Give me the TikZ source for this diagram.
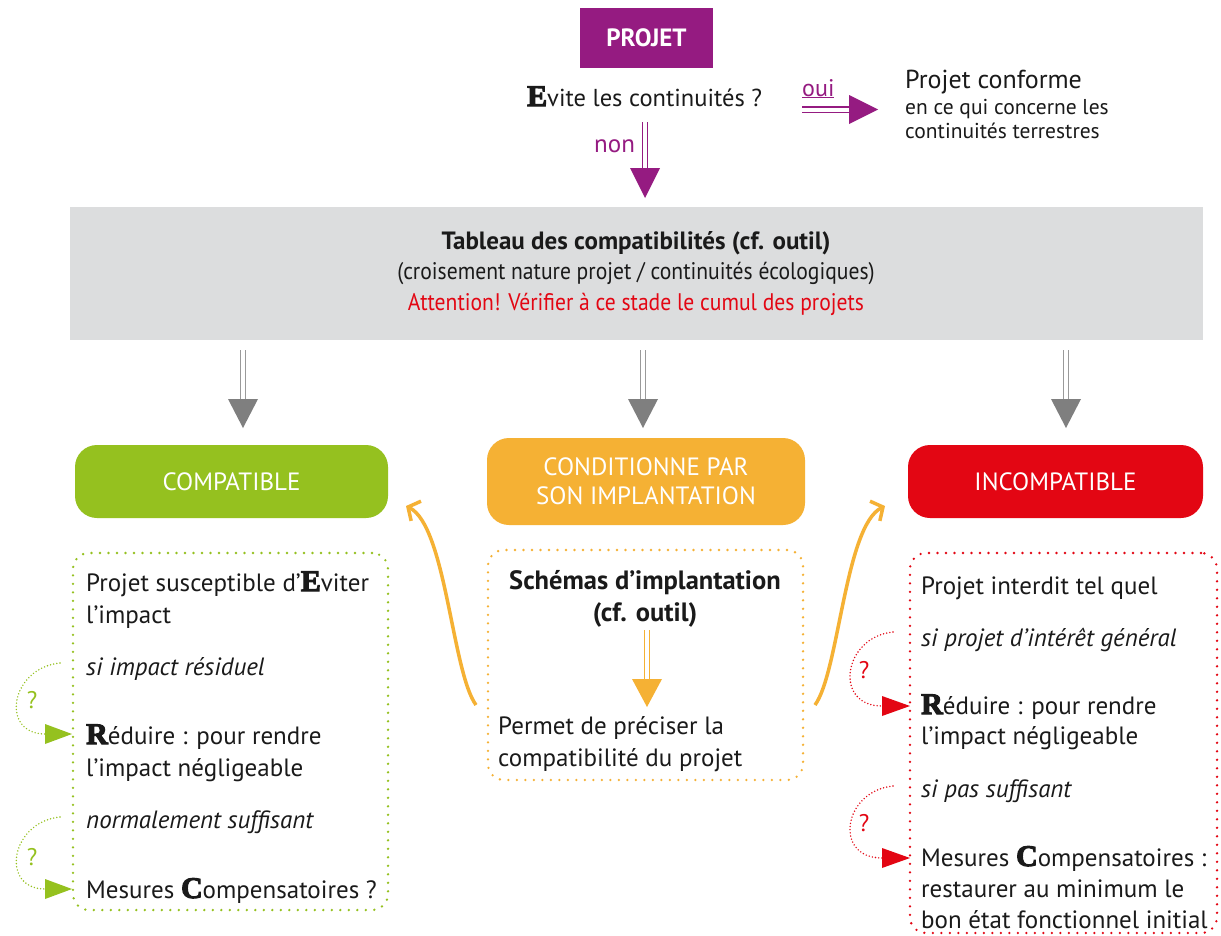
\documentclass[tikz,border=0pt]{standalone}
\usepackage{fontspec}
\setmainfont{PT Sans}
\newfontfamily\initfont[FakeBold=3.5]{Liberation Serif Bold}
\usetikzlibrary{arrows.meta,calc}
\definecolor{cpurple}{HTML}{951B81}
\definecolor{cgreen}{HTML}{95C11F}
\definecolor{corange}{HTML}{F5B134}
\definecolor{cred}{HTML}{E30613}
\definecolor{cgreybox}{HTML}{DCDDDE}
\definecolor{carrow}{HTML}{7F7F7F}
\definecolor{cline}{HTML}{9A9A9A}
\definecolor{cink}{HTML}{1A1A1A}
% big heavy serif initials (E, R, C)
\newcommand\initial[1]{{\initfont\fontsize{30}{30}\selectfont #1}}
% slightly condensed lines in the table box
\newcommand\narrow[1]{\scalebox{0.9}[1]{#1}}
\begin{document}
\begin{tikzpicture}[x=1pt,y=-1pt,
  txtline/.style={anchor=base west, inner sep=0pt, text=cink, font=\fontsize{25}{29}\selectfont},
  itline/.style={txtline, font=\fontsize{25}{29}\selectfont\itshape},
  ctrline/.style={anchor=base, inner sep=0pt, text=cink, font=\fontsize{24}{28}\selectfont},
  colbox/.style={rounded corners=22pt, inner sep=0pt, text=white, align=center,
    font=\fontsize{25}{29}\selectfont},
  dotbox/.style={draw, rounded corners=16pt, line width=2.6pt, line cap=round,
    dash pattern=on 0pt off 8.5pt, inner sep=0pt},
  dotcurve/.style={line width=1.6pt, line cap=round, dash pattern=on 0pt off 3.2pt},
  dblline/.style={line width=1.3pt, double=white, double distance=4pt},
  swoosh/.style={corange, line width=3.5pt,
    -{Straight Barb[length=9pt,width=22pt,line width=3.5pt]}},
  qmark/.style={inner sep=0pt, font=\fontsize{24}{28}\selectfont},
]
\useasboundingbox (0,0) rectangle (1221,935);
\fill[white] (0,0) rectangle (1221,935);

% ---------- top: project and first question ----------
\node[fill=cpurple, minimum width=133pt, minimum height=60pt, inner sep=0pt,
  text=white, font=\fontsize{25}{29}\selectfont\bfseries] (projet) at (646.5,38) {PROJET};
\node[txtline, font=\fontsize{24.5}{28}\selectfont] (evite) at (527,106) {\initial{E}vite les continuités ?};

\node[anchor=base west, inner sep=0pt, text=cpurple, font=\fontsize{24}{28}\selectfont]
  (oui) at (802,96) {\underline{oui}};
\coordinate (ouiS) at (802,109.5);
\coordinate (ouiE) at (849,109.5);
\draw[dblline, cpurple] (ouiS) -- (ouiE);
\fill[cpurple] (ouiE) ++(0,-14.5) -- ++(29,14.5) -- ++(-29,14.5) -- cycle;

\node[txtline, font=\fontsize{26}{30}\selectfont] (conf1) at (905,88) {Projet conforme};
\node[txtline, font=\fontsize{21.5}{25}\selectfont] (conf2) at (905,114) {en ce qui concerne les};
\node[txtline, font=\fontsize{21.5}{25}\selectfont] (conf3) at (905,138) {continuités terrestres};

\node[anchor=base west, inner sep=0pt, text=cpurple, font=\fontsize{25}{28}\selectfont]
  (non) at (594,152) {non};
\coordinate (nonS) at (645,122);
\coordinate (nonE) at (645,168);
\draw[dblline, cpurple] (nonS) -- (nonE);
\fill[cpurple] (nonE) ++(-15,0) -- ++(30,0) -- ++(-15,30) -- cycle;

% ---------- compatibility table ----------
\node[fill=cgreybox, minimum width=1133pt, minimum height=133pt, inner sep=0pt] (tab) at (636.5,273.5) {};
\node[ctrline, font=\fontsize{25}{28}\selectfont\bfseries] (tab1) at (636,249) {Tableau des compatibilités (cf. outil)};
\node[ctrline] (tab2) at (636,279) {\narrow{(croisement nature projet / continuités écologiques)}};
\node[ctrline, text=cred] (tab3) at (636,310) {\narrow{Attention! Vérifier à ce stade le cumul des projets}};

% ---------- three outcomes ----------
\node[colbox, fill=cgreen, minimum width=313pt, minimum height=73pt] (comp) at (231.5,481.5) {COMPATIBLE};
\node[colbox, fill=corange, minimum width=318pt, minimum height=87pt] (cond) at (646,481.5)
  {CONDITIONNE PAR\\SON IMPLANTATION};
\node[colbox, fill=cred, minimum width=295pt, minimum height=73pt] (incomp) at (1055.5,481.5) {INCOMPATIBLE};

\foreach \n/\x in {a/243, b/643, c/1066}{
  \coordinate (g\n S) at (\x,350);
  \coordinate (g\n E) at (\x,399);
  \draw[dblline, cline] (g\n S) -- (g\n E);
  \fill[carrow] (g\n E) ++(-15,0) -- ++(30,0) -- ++(-15,29) -- cycle;
}

% ---------- compatible column ----------
\node[dotbox, draw=cgreen, minimum width=315pt, minimum height=357pt] (gbox) at (230.5,731.5) {};
\node[txtline] (l1) at (86,591) {Projet susceptible d’\initial{E}viter};
\node[txtline] (l2) at (86,623) {l’impact};
\node[itline]  (l3) at (86,675) {si impact résiduel};
\node[txtline] (l4) at (86,744) {\initial{R}éduire : pour rendre};
\node[txtline] (l5) at (86,776) {l’impact négligeable};
\node[itline]  (l6) at (86,828) {normalement suffisant};
\node[txtline] (l7) at (86,898) {Mesures \initial{C}ompensatoires ?};

\coordinate (gq1S) at (60,663);
\coordinate (gq1E) at (45,734);
\draw[dotcurve, cgreen] (gq1S) .. controls (10,668) and (0,734) .. (gq1E);
\fill[cgreen] (gq1E) ++(0,-10) -- ++(27,10) -- ++(-27,10) -- cycle;
\node[qmark, text=cgreen] (gq1) at (32,700) {?};

\coordinate (gq2S) at (60,817);
\coordinate (gq2E) at (45,889);
\draw[dotcurve, cgreen] (gq2S) .. controls (10,822) and (0,889) .. (gq2E);
\fill[cgreen] (gq2E) ++(0,-10) -- ++(27,10) -- ++(-27,10) -- cycle;
\node[qmark, text=cgreen] (gq2) at (32,857) {?};

% ---------- conditional column ----------
\node[dotbox, draw=corange, minimum width=315pt, minimum height=230pt] (obox) at (645.5,665) {};
\node[ctrline, font=\fontsize{26.5}{30}\selectfont\bfseries] (c1) at (645,589) {Schémas d’implantation};
\node[ctrline, font=\fontsize{26.5}{30}\selectfont\bfseries] (c2) at (645,621) {(cf. outil)};
\coordinate (oS) at (647,630);
\coordinate (oE) at (647,679);
\draw[dblline, corange] (oS) -- (oE);
\fill[corange] (oE) ++(-15,0) -- ++(30,0) -- ++(-15,28) -- cycle;
\node[txtline] (c3) at (498,734) {Permet de préciser la};
\node[txtline] (c4) at (498,766) {compatibilité du projet};

\coordinate (bLS) at (476,705);
\coordinate (bLE) at (406,506);
\draw[swoosh] (bLS) .. controls (452,672) and (446,526) .. (bLE);
\coordinate (bRS) at (815,705);
\coordinate (bRE) at (885,506);
\draw[swoosh] (bRS) .. controls (839,672) and (845,526) .. (bRE);

% ---------- incompatible column ----------
\node[dotbox, draw=cred, minimum width=307pt, minimum height=380pt] (rbox) at (1063.5,743) {};
\node[txtline] (r1) at (921,594) {Projet interdit tel quel};
\node[itline]  (r2) at (921,646) {si projet d’intérêt général};
\node[txtline] (r3) at (921,714) {\initial{R}éduire : pour rendre};
\node[txtline] (r4) at (921,744) {l’impact négligeable};
\node[itline]  (r5) at (921,797) {si pas suffisant};
\node[txtline] (r6) at (921,866) {Mesures \initial{C}ompensatoires :};
\node[txtline] (r7) at (921,897) {restaurer au minimum le};
\node[txtline] (r8) at (921,928) {bon état fonctionnel initial};

\coordinate (rq1S) at (893,632);
\coordinate (rq1E) at (882,706);
\draw[dotcurve, cred] (rq1S) .. controls (843,637) and (833,706) .. (rq1E);
\fill[cred] (rq1E) ++(0,-10) -- ++(28,10) -- ++(-28,10) -- cycle;
\node[qmark, text=cred] (rq1) at (864,670) {?};

\coordinate (rq2S) at (893,786);
\coordinate (rq2E) at (882,858);
\draw[dotcurve, cred] (rq2S) .. controls (843,791) and (833,858) .. (rq2E);
\fill[cred] (rq2E) ++(0,-10) -- ++(28,10) -- ++(-28,10) -- cycle;
\node[qmark, text=cred] (rq2) at (864,823) {?};
\end{tikzpicture}
\end{document}
